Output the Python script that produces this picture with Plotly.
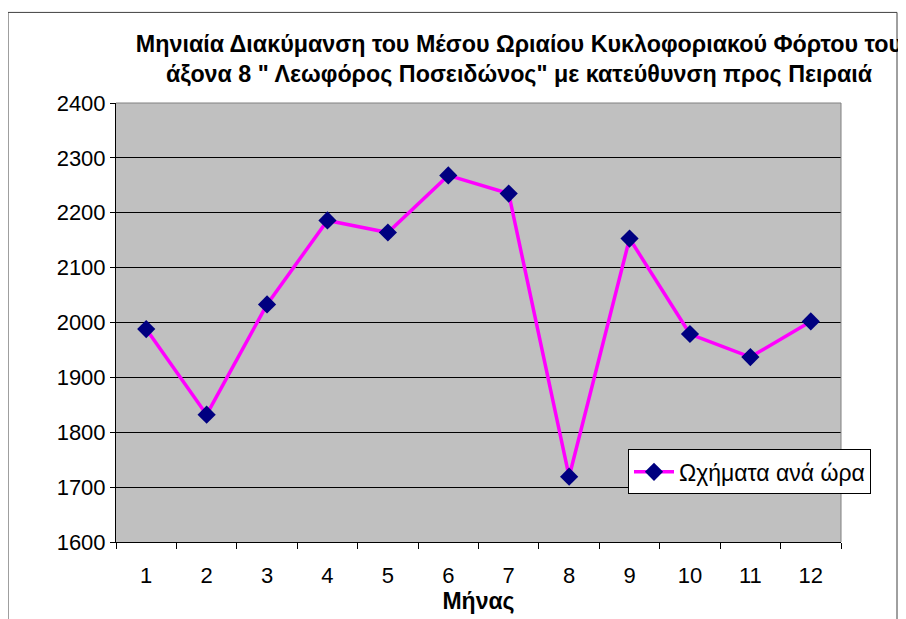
import plotly.graph_objects as go

months = [1, 2, 3, 4, 5, 6, 7, 8, 9, 10, 11, 12]
vehicles = [1988, 1832, 2033, 2186, 2164, 2268, 2235, 1719, 2153, 1979, 1937, 2002]
series_name = "Ωχήματα ανά ώρα"
title_text = ("Μηνιαία Διακύμανση του Μέσου Ωριαίου Κυκλοφοριακού Φόρτου του<br>"
              "άξονα 8 \" Λεωφόρος Ποσειδώνος\" με κατεύθυνση προς Πειραιά")

# the page body adds an 8px offset, so work in window pixels minus 8
OFF = 8
W, H = 906 - OFF, 619 - OFF
L, R, T, B = 116 - OFF, 841 - OFF, 103 - OFF, 544 - OFF  # plot area


def px_x(p):
    return (p - OFF - L) / (R - L)


def px_y(p):
    return (B - (p - OFF)) / (B - T)


fig = go.Figure()
fig.add_trace(go.Scatter(
    x=months, y=vehicles, name=series_name, mode="lines+markers",
    line=dict(color="#FF00FF", width=3.5),
    marker=dict(symbol="diamond", size=14, color="#000080"),
))

font = "Liberation Sans, Arial, sans-serif"
fig.update_layout(
    width=W, height=H,
    margin=dict(l=L, r=W - R, t=T, b=H - B),
    paper_bgcolor="white", plot_bgcolor="#C0C0C0",
    font=dict(family=font, size=22, color="black"),
    showlegend=True,
    title=dict(text="<b>" + title_text + "</b>", x=px_x(519), xref="paper", xanchor="center",
               y=1 - (52 - OFF) / H, yanchor="middle", font=dict(size=23.3)),
    legend=dict(x=px_x(628), y=px_y(451), xanchor="left", yanchor="top",
                bgcolor="white", bordercolor="black", borderwidth=1,
                itemwidth=40, font=dict(size=23), tracegroupgap=0),
)

fig.update_xaxes(
    range=[0.5, 12.5], tickmode="array", tickvals=months, ticks="",
    ticklabelstandoff=14, showgrid=False, zeroline=False,
    showline=True, linecolor="black", linewidth=1,
    minor=dict(tickmode="linear", tick0=0.5, dtick=1, ticks="outside",
               ticklen=6, tickcolor="black", showgrid=False),
    title=dict(text="<b>Μήνας</b>", font=dict(size=23), standoff=2),
)
fig.update_yaxes(
    range=[1600, 2400], dtick=100, ticks="outside", ticklen=5, tickcolor="black",
    showgrid=True, gridcolor="black", gridwidth=1, zeroline=False,
    showline=True, linecolor="black", linewidth=1,
)

# grey top and right edges of the plot area
fig.add_shape(type="line", xref="paper", yref="paper", x0=0, x1=1, y0=1, y1=1,
              line=dict(color="#808080", width=1))
fig.add_shape(type="line", xref="paper", yref="paper", x0=1, x1=1, y0=0, y1=1,
              line=dict(color="#808080", width=1))
# outer chart border
fig.add_shape(type="rect", xref="paper", yref="paper",
              x0=px_x(8), x1=px_x(897), y0=px_y(640), y1=px_y(12),
              line=dict(color="#404040", width=1), layer="below")

fig.write_html("out.html")
